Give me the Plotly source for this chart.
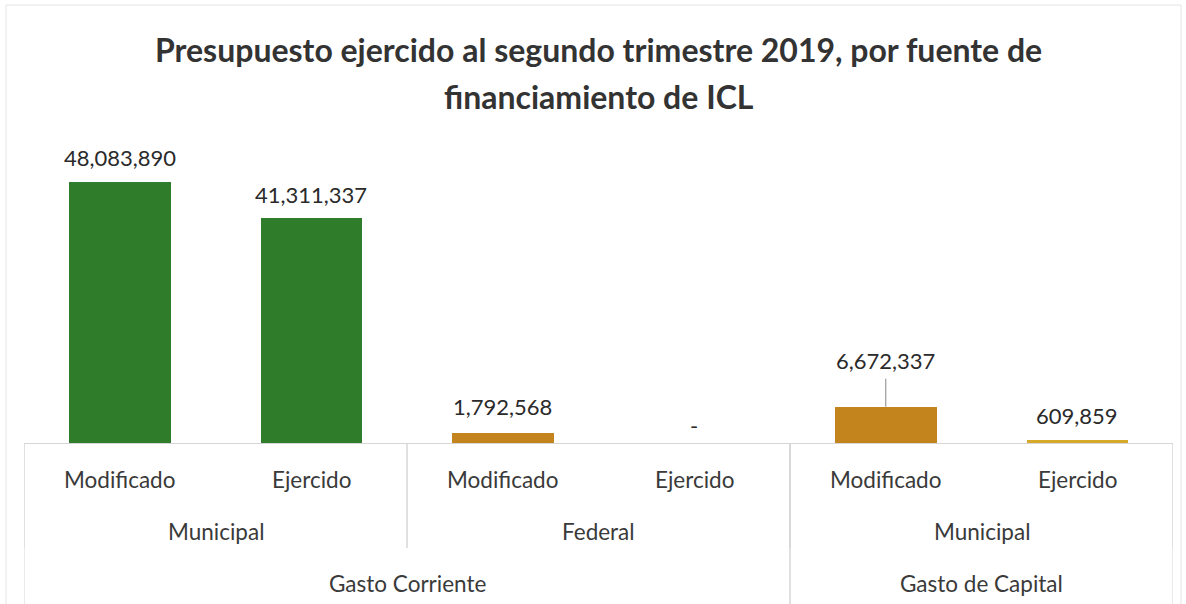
import plotly.graph_objects as go

# ---- data ----
titulo = ["Presupuesto ejercido al segundo trimestre 2019, por fuente de", "financiamiento de ICL"]
momento = ["Modificado", "Ejercido", "Modificado", "Ejercido", "Modificado", "Ejercido"]
fuente = ["Municipal", "Municipal", "Federal", "Federal", "Municipal", "Municipal"]
gasto = ["Gasto Corriente", "Gasto Corriente", "Gasto Corriente", "Gasto Corriente",
         "Gasto de Capital", "Gasto de Capital"]
valores = [48083890, 41311337, 1792568, 0, 6672337, 609859]

# ---- style ----
colores = ["#2f7d2a", "#2f7d2a", "#c4841d", "#c4841d", "#c4841d", "#d6a92a"]
FONT = "Lato"
TXT = "#3a3a3a"
LINE = "#d6d6d6"
W, H = 1186, 604
L, R, T, B = 24, 13, 160, 161
px_per_unit = 261.5 / 48083890
ymax = (H - T - B) / px_per_unit
label_shift = [24, 24, 27, 18, 46, 24]

x = list(range(len(valores)))
fig = go.Figure()
fig.add_trace(go.Bar(x=x, y=valores, marker=dict(color=colores, line=dict(width=0)),
                     width=0.53, hoverinfo="skip", showlegend=False))

ann = []
shapes = []
# data labels
for i, v in enumerate(valores):
    txt = f"{v:,}" if v else "-"
    ann.append(dict(x=i, y=v, xref="x", yref="y", text=txt, showarrow=False,
                    yanchor="middle", yshift=label_shift[i],
                    font=dict(family=FONT, size=22, color="#2a2a2a")))
# leader line for moved label
shapes.append(dict(type="line", xref="x", yref="y", ysizemode="pixel", yanchor=valores[4],
                   x0=4, x1=4, y0=0, y1=28, line=dict(color="#9a9a9a", width=1.2)))

# level 1 labels
for i, m in enumerate(momento):
    ann.append(dict(x=i, y=0, xref="x", yref="paper", text=m, showarrow=False,
                    yanchor="middle", yshift=-36, font=dict(family=FONT, size=22.5, color=TXT)))

def runs(keys):
    out = []
    s = 0
    for i in range(1, len(keys) + 1):
        if i == len(keys) or keys[i] != keys[s]:
            out.append((s, i - 1))
            s = i
    return out

lvl2 = runs(list(zip(gasto, fuente)))
for s, e in lvl2:
    ann.append(dict(x=(s + e) / 2, y=0, xref="x", yref="paper", text=fuente[s], showarrow=False,
                    yanchor="middle", yshift=-88, font=dict(family=FONT, size=22.5, color=TXT)))
    for xb in (s - 0.5, e + 0.5):
        shapes.append(dict(type="line", xref="x", yref="paper", ysizemode="pixel", yanchor=0,
                           x0=xb, x1=xb, y0=0, y1=-105, line=dict(color=LINE, width=1)))
lvl3 = runs(gasto)
for s, e in lvl3:
    ann.append(dict(x=(s + e) / 2, y=0, xref="x", yref="paper", text=gasto[s], showarrow=False,
                    yanchor="middle", yshift=-140, font=dict(family=FONT, size=22.5, color=TXT)))
    for xb in (s - 0.5, e + 0.5):
        shapes.append(dict(type="line", xref="x", yref="paper", ysizemode="pixel", yanchor=0,
                           x0=xb, x1=xb, y0=0, y1=-170, line=dict(color=LINE, width=1)))

# title
for k, (t, sh) in enumerate(zip(titulo, [111, 64])):
    ann.append(dict(x=0.5, y=1, xref="paper", yref="paper", text=f"<b>{t}</b>", showarrow=False,
                    yanchor="middle", yshift=sh, font=dict(family=FONT, size=32, color="#333333")))

# outer chart frame
shapes.append(dict(type="rect", xref="paper", yref="paper", xsizemode="pixel", ysizemode="pixel",
                   xanchor=0, yanchor=1, x0=6 - L, x1=1181 - L, y0=T - 5, y1=-(H - T) - 20,
                   line=dict(color="#e4e4e4", width=1)))

fig.update_layout(
    width=W, height=H, margin=dict(l=L, r=R, t=T, b=B),
    paper_bgcolor="white", plot_bgcolor="white",
    xaxis=dict(range=[-0.5, len(valores) - 0.5], showticklabels=False, showgrid=False,
               zeroline=False, showline=True, linecolor=LINE, linewidth=1, ticks=""),
    yaxis=dict(range=[0, ymax], visible=False, showgrid=False, zeroline=False),
    annotations=ann, shapes=shapes, bargap=0,
)
fig.write_html("out.html", config={"displayModeBar": False},
               post_script="document.body.style.margin='0';")
